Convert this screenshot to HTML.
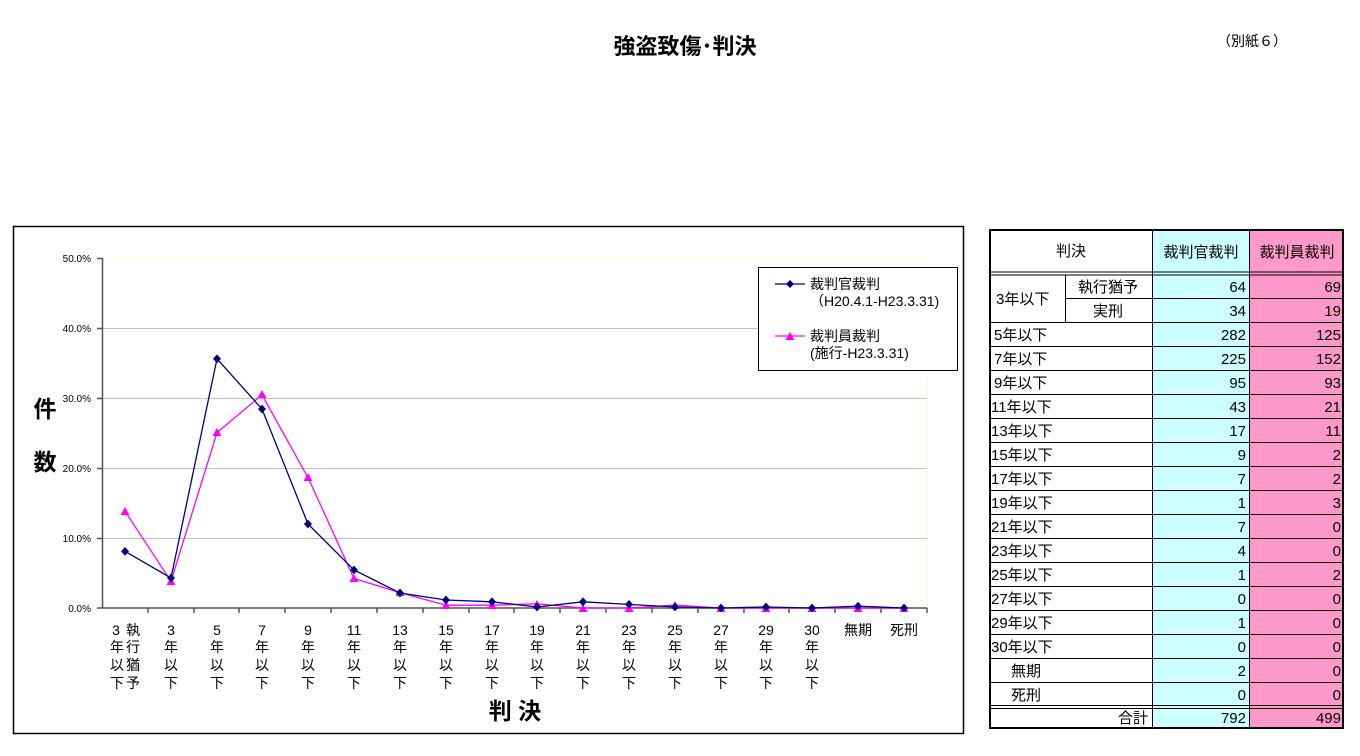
<!DOCTYPE html>
<html><head><meta charset="utf-8"><style>
html,body{margin:0;padding:0;background:#fff;}
svg{display:block;font-family:"Liberation Sans","Noto Sans CJK JP",sans-serif;}
</style></head><body>
<svg width="1360" height="756" viewBox="0 0 1360 756" xmlns="http://www.w3.org/2000/svg">
<text x="685" y="54" font-size="22" font-weight="bold" text-anchor="middle">強盗致傷･判決</text>
<text x="1252" y="46" font-size="14" text-anchor="middle">（別紙６）</text>

<rect x="13.5" y="226.5" width="950" height="507" fill="#fff" stroke="#000" stroke-width="1.5"/>
<g stroke="#c0c0c0" stroke-width="1">
<line x1="102" y1="258.5" x2="927" y2="258.5" stroke="#ffffcc"/>
<line x1="102" y1="328.5" x2="927" y2="328.5"/>
<line x1="102" y1="398.5" x2="927" y2="398.5"/>
<line x1="102" y1="468.5" x2="927" y2="468.5"/>
<line x1="102" y1="538.5" x2="927" y2="538.5"/>
</g>
<line x1="927.5" y1="258" x2="927.5" y2="608" stroke="#ffffcc"/>
<g stroke="#555" stroke-width="1.5">
<line x1="102.5" y1="258" x2="102.5" y2="608"/>
<line x1="102" y1="608" x2="927" y2="608"/>
<line x1="97" y1="258.5" x2="102" y2="258.5"/><line x1="97" y1="328.5" x2="102" y2="328.5"/><line x1="97" y1="398.5" x2="102" y2="398.5"/><line x1="97" y1="468.5" x2="102" y2="468.5"/><line x1="97" y1="538.5" x2="102" y2="538.5"/><line x1="97" y1="608" x2="102" y2="608"/>
<line x1="148" y1="608" x2="148" y2="613"/><line x1="194" y1="608" x2="194" y2="613"/><line x1="239" y1="608" x2="239" y2="613"/><line x1="285" y1="608" x2="285" y2="613"/><line x1="331" y1="608" x2="331" y2="613"/><line x1="377" y1="608" x2="377" y2="613"/><line x1="423" y1="608" x2="423" y2="613"/><line x1="469" y1="608" x2="469" y2="613"/><line x1="514" y1="608" x2="514" y2="613"/><line x1="560" y1="608" x2="560" y2="613"/><line x1="606" y1="608" x2="606" y2="613"/><line x1="652" y1="608" x2="652" y2="613"/><line x1="698" y1="608" x2="698" y2="613"/><line x1="744" y1="608" x2="744" y2="613"/><line x1="789" y1="608" x2="789" y2="613"/><line x1="835" y1="608" x2="835" y2="613"/><line x1="881" y1="608" x2="881" y2="613"/><line x1="927" y1="608" x2="927" y2="613"/>
</g>
<g font-size="10" text-anchor="end">
<text x="91" y="262">50.0%</text><text x="91" y="332">40.0%</text><text x="91" y="402">30.0%</text><text x="91" y="472">20.0%</text><text x="91" y="542">10.0%</text><text x="91" y="612">0.0%</text>
</g>
<text x="45" y="417" font-size="23" font-weight="bold" text-anchor="middle">件</text>
<text x="45" y="470" font-size="23" font-weight="bold" text-anchor="middle">数</text>
<text x="515" y="719" font-size="23" font-weight="bold" text-anchor="middle">判 決</text>

<g font-size="14" text-anchor="middle">
<text x="116" y="635">3</text><text x="117" y="652">年</text><text x="117" y="670">以</text><text x="117" y="688">下</text>
<text x="133" y="635">執</text><text x="133" y="652">行</text><text x="133" y="670">猶</text><text x="133" y="688">予</text>
<text x="171" y="635">3</text><text x="171" y="652">年</text><text x="171" y="670">以</text><text x="171" y="688">下</text>
<text x="217" y="635">5</text><text x="217" y="652">年</text><text x="217" y="670">以</text><text x="217" y="688">下</text>
<text x="262" y="635">7</text><text x="262" y="652">年</text><text x="262" y="670">以</text><text x="262" y="688">下</text>
<text x="308" y="635">9</text><text x="308" y="652">年</text><text x="308" y="670">以</text><text x="308" y="688">下</text>
<text x="354" y="635">11</text><text x="354" y="652">年</text><text x="354" y="670">以</text><text x="354" y="688">下</text>
<text x="400" y="635">13</text><text x="400" y="652">年</text><text x="400" y="670">以</text><text x="400" y="688">下</text>
<text x="446" y="635">15</text><text x="446" y="652">年</text><text x="446" y="670">以</text><text x="446" y="688">下</text>
<text x="492" y="635">17</text><text x="492" y="652">年</text><text x="492" y="670">以</text><text x="492" y="688">下</text>
<text x="537" y="635">19</text><text x="537" y="652">年</text><text x="537" y="670">以</text><text x="537" y="688">下</text>
<text x="583" y="635">21</text><text x="583" y="652">年</text><text x="583" y="670">以</text><text x="583" y="688">下</text>
<text x="629" y="635">23</text><text x="629" y="652">年</text><text x="629" y="670">以</text><text x="629" y="688">下</text>
<text x="675" y="635">25</text><text x="675" y="652">年</text><text x="675" y="670">以</text><text x="675" y="688">下</text>
<text x="721" y="635">27</text><text x="721" y="652">年</text><text x="721" y="670">以</text><text x="721" y="688">下</text>
<text x="766" y="635">29</text><text x="766" y="652">年</text><text x="766" y="670">以</text><text x="766" y="688">下</text>
<text x="812" y="635">30</text><text x="812" y="652">年</text><text x="812" y="670">以</text><text x="812" y="688">下</text>
<text x="858" y="635">無期</text>
<text x="904" y="635">死刑</text>
</g>

<polyline fill="none" stroke="#ff00ff" stroke-width="1.3" points="125,511.2 171,581.3 217,432.6 262,394.8 308,477.5 354,578.5 400,592.6 446,605.2 492,605.2 537,603.8 583,608 629,608 675,605.2 721,608 766,608 812,608 858,608 904,608"/>
<g fill="#ff00ff">
<polygon points="125,507 129.5,515 120.5,515"/><polygon points="171,577 175.5,585 166.5,585"/><polygon points="217,428 221.5,436 212.5,436"/><polygon points="262,390 266.5,398 257.5,398"/><polygon points="308,473 312.5,481 303.5,481"/><polygon points="354,574 358.5,582 349.5,582"/><polygon points="400,588 404.5,596 395.5,596"/><polygon points="446,601 450.5,609 441.5,609"/><polygon points="492,601 496.5,609 487.5,609"/><polygon points="537,600 541.5,608 532.5,608"/><polygon points="583,604 587.5,612 578.5,612"/><polygon points="629,604 633.5,612 624.5,612"/><polygon points="675,601 679.5,609 670.5,609"/><polygon points="721,604 725.5,612 716.5,612"/><polygon points="766,604 770.5,612 761.5,612"/><polygon points="812,604 816.5,612 807.5,612"/><polygon points="858,604 862.5,612 853.5,612"/><polygon points="904,604 908.5,612 899.5,612"/>
</g>
<polyline fill="none" stroke="#000080" stroke-width="1.3" points="125,551.4 171,578 217,358.8 262,409 308,524 354,570 400,593 446,600 492,601.8 537,607 583,601.8 629,604.4 675,607 721,608 766,607 812,608 858,606.2 904,608"/>
<g fill="#000080">
<polygon points="125,547 129,551.4 125,555.8 121,551.4"/><polygon points="171,573.6 175,578 171,582.4 167,578"/><polygon points="217,354.4 221,358.8 217,363.2 213,358.8"/><polygon points="262,404.6 266,409 262,413.4 258,409"/><polygon points="308,519.6 312,524 308,528.4 304,524"/><polygon points="354,565.6 358,570 354,574.4 350,570"/><polygon points="400,588.6 404,593 400,597.4 396,593"/><polygon points="446,595.6 450,600 446,604.4 442,600"/><polygon points="492,597.4 496,601.8 492,606.2 488,601.8"/><polygon points="537,602.6 541,607 537,611.4 533,607"/><polygon points="583,597.4 587,601.8 583,606.2 579,601.8"/><polygon points="629,600 633,604.4 629,608.8 625,604.4"/><polygon points="675,602.6 679,607 675,611.4 671,607"/><polygon points="721,603.6 725,608 721,612.4 717,608"/><polygon points="766,602.6 770,607 766,611.4 762,607"/><polygon points="812,603.6 816,608 812,612.4 808,608"/><polygon points="858,601.8 862,606.2 858,610.6 854,606.2"/><polygon points="904,603.6 908,608 904,612.4 900,608"/>
</g>

<rect x="758.5" y="267.5" width="199" height="103" fill="#fff" stroke="#000" stroke-width="1"/>
<line x1="775" y1="284" x2="805" y2="284" stroke="#000080" stroke-width="1.3"/>
<polygon points="790,280 794,284 790,288 786,284" fill="#000080"/>
<text x="810" y="289" font-size="14">裁判官裁判</text>
<text x="810" y="306" font-size="14">（H20.4.1-H23.3.31)</text>
<line x1="775" y1="336" x2="805" y2="336" stroke="#ff00ff" stroke-width="1.3"/>
<polygon points="790,332 794.5,340 785.5,340" fill="#ff00ff"/>
<text x="810" y="341" font-size="14">裁判員裁判</text>
<text x="810" y="358" font-size="14">(施行-H23.3.31)</text>

<rect x="1152" y="229" width="97" height="500" fill="#ccffff"/>
<rect x="1249" y="229" width="95" height="500" fill="#ff99cc"/>
<g stroke="#000" stroke-width="1">
<line x1="989" y1="272" x2="1344" y2="272"/><line x1="989" y1="275" x2="1344" y2="275"/>
<line x1="1065" y1="298.5" x2="1344" y2="298.5"/>
<line x1="989" y1="322.5" x2="1344" y2="322.5"/><line x1="989" y1="346.5" x2="1344" y2="346.5"/><line x1="989" y1="370.5" x2="1344" y2="370.5"/><line x1="989" y1="394.5" x2="1344" y2="394.5"/><line x1="989" y1="418.5" x2="1344" y2="418.5"/><line x1="989" y1="442.5" x2="1344" y2="442.5"/><line x1="989" y1="466.5" x2="1344" y2="466.5"/><line x1="989" y1="490.5" x2="1344" y2="490.5"/><line x1="989" y1="514.5" x2="1344" y2="514.5"/><line x1="989" y1="538.5" x2="1344" y2="538.5"/><line x1="989" y1="562.5" x2="1344" y2="562.5"/><line x1="989" y1="586.5" x2="1344" y2="586.5"/><line x1="989" y1="610.5" x2="1344" y2="610.5"/><line x1="989" y1="634.5" x2="1344" y2="634.5"/><line x1="989" y1="658.5" x2="1344" y2="658.5"/><line x1="989" y1="682.5" x2="1344" y2="682.5"/>
<line x1="989" y1="705.5" x2="1344" y2="705.5"/><line x1="989" y1="708.5" x2="1344" y2="708.5"/>
<line x1="1065.5" y1="275" x2="1065.5" y2="322"/>
<line x1="1152.5" y1="229" x2="1152.5" y2="729"/>
<line x1="1249.5" y1="229" x2="1249.5" y2="729"/>
</g>
<rect x="990" y="230" width="353" height="498" fill="none" stroke="#000" stroke-width="2"/>
<g font-size="15">
<text x="1071" y="256" text-anchor="middle">判決</text>
<text x="1201" y="257" text-anchor="middle">裁判官裁判</text>
<text x="1297" y="257" text-anchor="middle">裁判員裁判</text>
<text x="996" y="304">3年以下</text>
<text x="1108" y="292" text-anchor="middle">執行猶予</text>
<text x="1108" y="316" text-anchor="middle">実刑</text>
<text x="994" y="340">5年以下</text><text x="994" y="364">7年以下</text><text x="994" y="388">9年以下</text><text x="991" y="412">11年以下</text><text x="991" y="436">13年以下</text><text x="991" y="460">15年以下</text><text x="991" y="484">17年以下</text><text x="991" y="508">19年以下</text><text x="991" y="532">21年以下</text><text x="991" y="556">23年以下</text><text x="991" y="580">25年以下</text><text x="991" y="604">27年以下</text><text x="991" y="628">29年以下</text><text x="991" y="652">30年以下</text>
<text x="1011" y="676">無期</text><text x="1011" y="700">死刑</text>
<text x="1148" y="723" text-anchor="end">合計</text>
</g>
<g font-size="15" text-anchor="end">
<text x="1246" y="292">64</text><text x="1246" y="316">34</text><text x="1246" y="340">282</text><text x="1246" y="364">225</text><text x="1246" y="388">95</text><text x="1246" y="412">43</text><text x="1246" y="436">17</text><text x="1246" y="460">9</text><text x="1246" y="484">7</text><text x="1246" y="508">1</text><text x="1246" y="532">7</text><text x="1246" y="556">4</text><text x="1246" y="580">1</text><text x="1246" y="604">0</text><text x="1246" y="628">1</text><text x="1246" y="652">0</text><text x="1246" y="676">2</text><text x="1246" y="700">0</text><text x="1246" y="723">792</text>
<text x="1341" y="292">69</text><text x="1341" y="316">19</text><text x="1341" y="340">125</text><text x="1341" y="364">152</text><text x="1341" y="388">93</text><text x="1341" y="412">21</text><text x="1341" y="436">11</text><text x="1341" y="460">2</text><text x="1341" y="484">2</text><text x="1341" y="508">3</text><text x="1341" y="532">0</text><text x="1341" y="556">0</text><text x="1341" y="580">2</text><text x="1341" y="604">0</text><text x="1341" y="628">0</text><text x="1341" y="652">0</text><text x="1341" y="676">0</text><text x="1341" y="700">0</text><text x="1341" y="723">499</text>
</g>
</svg>
</body></html>
